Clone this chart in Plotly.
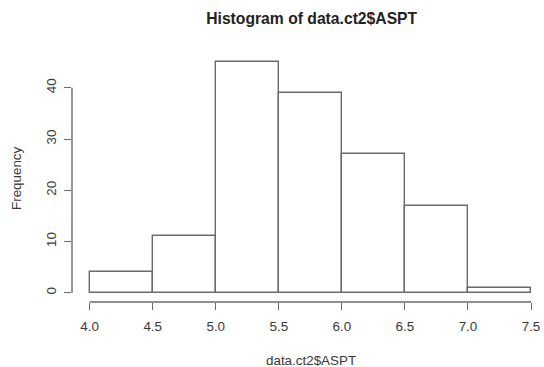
import plotly.graph_objects as go

# Data
bin_edges = [4.0, 4.5, 5.0, 5.5, 6.0, 6.5, 7.0, 7.5]
counts = [4, 11, 45, 39, 27, 17, 1]
x_ticks = [4.0, 4.5, 5.0, 5.5, 6.0, 6.5, 7.0, 7.5]
x_tick_labels = ["4.0", "4.5", "5.0", "5.5", "6.0", "6.5", "7.0", "7.5"]
y_ticks = [0, 10, 20, 30, 40]
y_tick_labels = ["0", "10", "20", "30", "40"]

centers = [(a + b) / 2 for a, b in zip(bin_edges[:-1], bin_edges[1:])]
widths = [b - a for a, b in zip(bin_edges[:-1], bin_edges[1:])]

LINE = "#6a6a6a"
TEXT = "#3a3a3a"
FONT = "Liberation Sans, Arial, Helvetica, sans-serif"

W, H = 544, 367
ML, MR, MT, MB = 72, 0, 53, 65

fig = go.Figure()
fig.add_trace(go.Bar(
    x=centers, y=counts, width=widths,
    marker=dict(color="white", line=dict(color=LINE, width=1.4)),
    hoverinfo="skip",
))

fig.update_layout(
    width=W, height=H,
    margin=dict(l=ML, r=MR, t=MT, b=MB, pad=0, autoexpand=False),
    paper_bgcolor="white", plot_bgcolor="white",
    showlegend=False,
    font=dict(family=FONT, size=13.4, color=TEXT),
    title=dict(text="<b>Histogram of data.ct2$ASPT</b>",
               x=311.7 / W, xanchor="center", xref="container",
               y=1 - 18.5 / H, yanchor="middle", yref="container",
               font=dict(family=FONT, size=15.7, color="#222222")),
    bargap=0,
)

fig.update_xaxes(
    range=[3.86, 3.86 + (W - ML - MR) / 126.1],
    tickvals=x_ticks, ticktext=x_tick_labels,
    ticks="outside", ticklen=7, tickwidth=1.4, tickcolor=LINE,
    showline=False, showgrid=False, zeroline=False,
    ticklabelstandoff=5, automargin=False,
)
fig.update_yaxes(
    range=[-1.8, 46.8],
    tickvals=y_ticks, ticktext=y_tick_labels,
    ticks="outside", ticklen=7, tickwidth=1.4, tickcolor=LINE,
    tickangle=-90,
    showline=False, showgrid=False, zeroline=False,
    ticklabelstandoff=3, automargin=False,
)

# R-style axis lines spanning only the tick range
fig.add_shape(type="line", xref="x", yref="paper",
              x0=x_ticks[0], x1=x_ticks[-1], y0=0, y1=0,
              line=dict(color=LINE, width=1.4))
fig.add_shape(type="line", xref="paper", yref="y",
              x0=0, x1=0, y0=y_ticks[0], y1=y_ticks[-1],
              line=dict(color=LINE, width=1.4))

plot_w = W - ML - MR
plot_h = H - MT - MB
fig.add_annotation(text="data.ct2$ASPT", xref="paper", yref="paper",
                   x=(310.8 - ML) / plot_w, y=-(360.5 - (H - MB)) / plot_h,
                   xanchor="center", yanchor="middle", showarrow=False,
                   font=dict(family=FONT, size=13.4, color=TEXT))
fig.add_annotation(text="Frequency", xref="paper", yref="paper",
                   x=(16 - ML) / plot_w, y=0.5 + (0.5 * plot_h - (178 - MT)) / plot_h,
                   xanchor="center", yanchor="middle", textangle=-90,
                   showarrow=False,
                   font=dict(family=FONT, size=13.4, color=TEXT))

fig.write_html(
    "out.html",
    config={"displayModeBar": False},
    post_script="document.body.style.margin='0';document.body.style.overflow='hidden';",
)
